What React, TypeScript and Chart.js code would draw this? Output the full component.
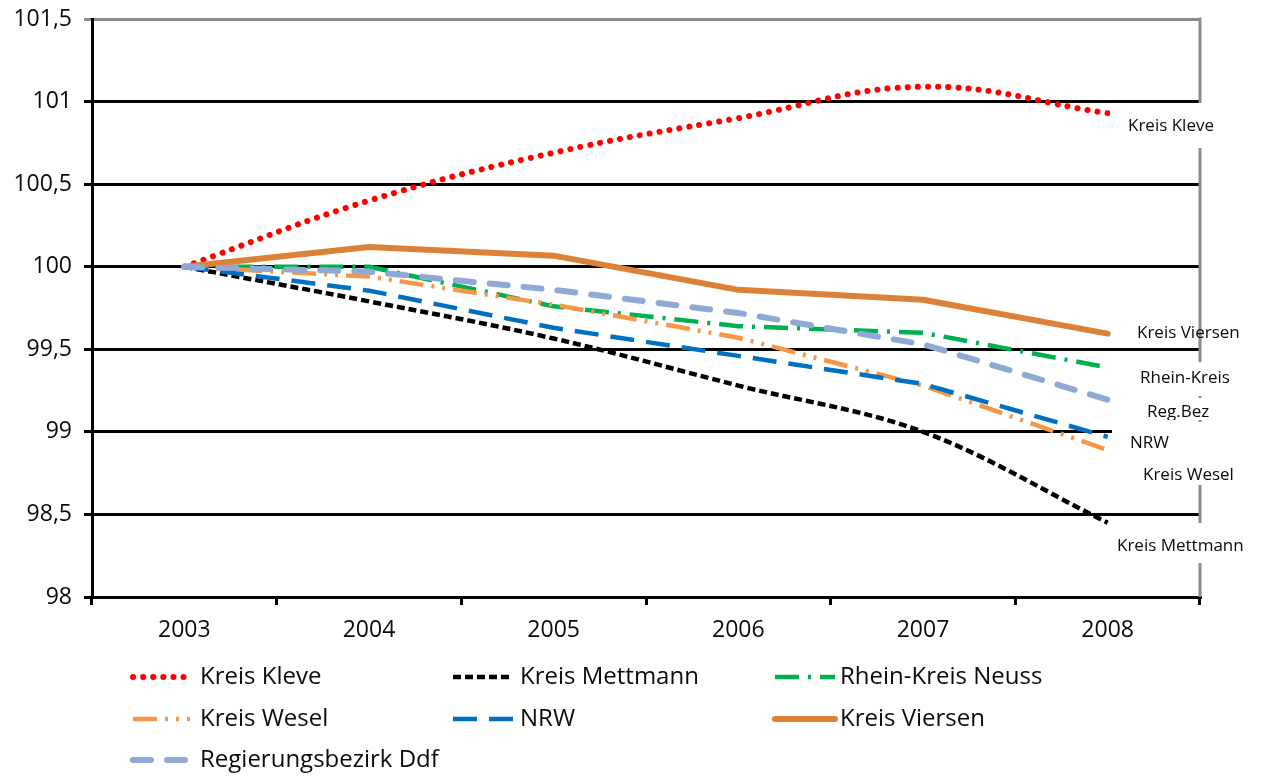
import React, { useEffect, useRef } from "react";
import { Chart, registerables } from "chart.js";

Chart.register(...registerables);

const categories = ["2003", "2004", "2005", "2006", "2007", "2008"];
const kleve = [100, 100.4, 100.69, 100.9, 101.09, 100.93];
const mettmann = [100, 99.79, 99.565, 99.28, 99.0, 98.45];
const neuss = [100, 100.0, 99.76, 99.64, 99.6, 99.39];
const wesel = [100, 99.94, 99.77, 99.57, 99.28, 98.89];
const nrw = [100, 99.855, 99.63, 99.46, 99.29, 98.97];
const viersen = [100, 100.12, 100.067, 99.86, 99.8, 99.595];
const regbez = [100, 99.97, 99.86, 99.72, 99.53, 99.195];

const seriesNames = [
  "Kreis Kleve",
  "Kreis Mettmann",
  "Rhein-Kreis Neuss",
  "Kreis Wesel",
  "NRW",
  "Kreis Viersen",
  "Regierungsbezirk Ddf",
];

const endLabels = [
  "Kreis Kleve",
  "Kreis Viersen",
  "Rhein-Kreis",
  "Reg.Bez",
  "NRW",
  "Kreis Wesel",
  "Kreis Mettmann",
];

const FONT = "'Open Sans', 'DejaVu Sans', sans-serif";

type Style = {
  color: string;
  width: number;
  dash: number[];
  cap: CanvasLineCap;
  tension: number;
};

const styles: Style[] = [
  { color: "#FF0000", width: 6, dash: [0.1, 10], cap: "round", tension: 0.4 },
  { color: "#000000", width: 4.5, dash: [8, 4], cap: "butt", tension: 0.35 },
  { color: "#00B050", width: 4.5, dash: [24, 9, 3, 9], cap: "butt", tension: 0 },
  { color: "#F79646", width: 4.5, dash: [24, 8, 3, 8, 3, 8], cap: "butt", tension: 0 },
  { color: "#0070C0", width: 4.5, dash: [24, 12], cap: "butt", tension: 0 },
  { color: "#DD8136", width: 6, dash: [], cap: "round", tension: 0 },
  { color: "#8EA9D4", width: 6, dash: [18, 16], cap: "round", tension: 0 },
];

const seriesData = [kleve, mettmann, neuss, wesel, nrw, viersen, regbez];

// legend layout: [sampleX1, sampleX2, textX, y]
const legendPos = [
  [133, 190, 200, 677],
  [453, 513, 520, 677],
  [775, 835, 840, 677],
  [133, 190, 200, 719],
  [453, 513, 520, 719],
  [775, 835, 840, 719],
  [133, 190, 200, 760],
];

const labelBoxes = [
  { box: [1110, 103, 153, 45], text: [1128, 126], clip: null },
  { box: null, text: [1137, 333], clip: null },
  { box: [1128, 362, 135, 34], text: [1140, 378], clip: null },
  { box: [1140, 398, 123, 22], text: [1147, 412], clip: [1140, 398, 123, 22] },
  { box: [1112, 422, 100, 38], text: [1130, 443], clip: null },
  { box: [1130, 460, 133, 25], text: [1143, 475], clip: null },
  { box: [1108, 523, 155, 40], text: [1117, 546], clip: null },
];

const decorPlugin = {
  id: "decor",
  beforeDatasetsDraw(chart: any) {
    const { ctx, chartArea } = chart;
    ctx.save();
    ctx.strokeStyle = "#8c8c8c";
    ctx.lineWidth = 3;
    ctx.beginPath();
    ctx.moveTo(chartArea.right, chartArea.top - 1.5);
    ctx.lineTo(chartArea.right, chartArea.bottom);
    ctx.stroke();
    ctx.restore();
  },
  afterDraw(chart: any) {
    const { ctx } = chart;
    ctx.save();
    labelBoxes.forEach((lb, i) => {
      if (lb.box) {
        ctx.fillStyle = "#ffffff";
        ctx.fillRect(lb.box[0], lb.box[1], lb.box[2], lb.box[3]);
      }
      ctx.save();
      if (lb.clip) {
        ctx.beginPath();
        ctx.rect(lb.clip[0], lb.clip[1], lb.clip[2], lb.clip[3]);
        ctx.clip();
      }
      ctx.fillStyle = "#0a0a0a";
      ctx.font = `17px ${FONT}`;
      ctx.textAlign = "left";
      ctx.textBaseline = "middle";
      ctx.fillText(endLabels[i], lb.text[0], lb.text[1]);
      ctx.restore();
    });
    seriesNames.forEach((name, i) => {
      const [x1, x2, tx, y] = legendPos[i];
      const st = styles[i];
      ctx.save();
      ctx.strokeStyle = st.color;
      ctx.lineWidth = st.width;
      ctx.lineCap = st.cap;
      ctx.setLineDash(st.dash);
      ctx.beginPath();
      ctx.moveTo(x1, y);
      ctx.lineTo(x2, y);
      ctx.stroke();
      ctx.restore();
      ctx.fillStyle = "#0a0a0a";
      ctx.font = `24px ${FONT}`;
      ctx.textAlign = "left";
      ctx.textBaseline = "middle";
      ctx.fillText(name, tx, y);
    });
    ctx.restore();
  },
};

export default function App() {
  const ref = useRef<HTMLCanvasElement | null>(null);
  useEffect(() => {
    if (!ref.current) return;
    const chart = new Chart(ref.current, {
      type: "line",
      data: {
        labels: categories,
        datasets: seriesData.map((d, i) => ({
          label: seriesNames[i],
          data: d,
          borderColor: styles[i].color,
          backgroundColor: styles[i].color,
          borderWidth: styles[i].width,
          borderDash: styles[i].dash,
          borderCapStyle: styles[i].cap,
          borderJoinStyle: "round",
          tension: styles[i].tension,
          pointRadius: 0,
          fill: false,
          order: 6 - i,
        })),
      },
      options: {
        responsive: false,
        animation: false,
        maintainAspectRatio: false,
        layout: { padding: { top: 19, right: 63, left: 0, bottom: 0 } },
        plugins: {
          legend: { display: false },
          tooltip: { enabled: false },
        },
        scales: {
          x: {
            offset: true,
            grid: {
              offset: true,
              drawOnChartArea: false,
              drawTicks: true,
              tickLength: 8,
              color: "#000",
              lineWidth: 3,
            },
            border: { color: "#000", width: 3 },
            ticks: {
              color: "#0a0a0a",
              font: { family: FONT, size: 23 },
              padding: 12,
              maxRotation: 0,
            },
            afterFit(scale: any) {
              scale.height = 179;
              scale.paddingLeft = 0;
              scale.paddingRight = 0;
            },
          },
          y: {
            min: 98,
            max: 101.5,
            ticks: {
              stepSize: 0.5,
              color: "#0a0a0a",
              font: { family: FONT, size: 23 },
              padding: 12,
              callback: (v: any) => String(v).replace(".", ","),
            },
            grid: {
              color: (c: any) => (c.tick && c.tick.value === 101.5 ? "#8c8c8c" : "#000"),
              lineWidth: 3,
              tickLength: 8,
              drawTicks: true,
            },
            border: { color: "#000", width: 3 },
            afterFit(scale: any) {
              scale.width = 92;
              scale.paddingTop = 0;
              scale.paddingBottom = 0;
            },
          },
        },
      },
      plugins: [decorPlugin],
    });
    return () => chart.destroy();
  }, []);
  return (
    <div style={{ position: "fixed", left: 0, top: 0, width: 1263, height: 776, background: "#fff" }}>
      <canvas ref={ref} width={1263} height={776} style={{ width: 1263, height: 776 }} />
    </div>
  );
}
